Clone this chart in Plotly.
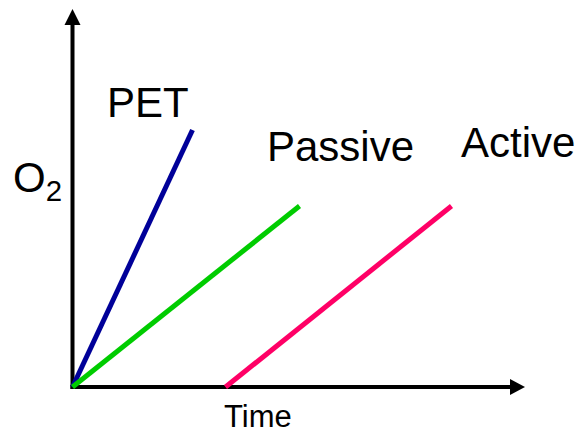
import plotly.graph_objects as go

# Data (time units, O2 units)
series_names = ["PET", "Passive", "Active"]
series_x = [[0, 12.0], [0, 22.7], [15.3, 37.9]]
series_y = [[0, 25.7], [0, 18.1], [0, 18.1]]
series_colors = ["#000099", "#00CC00", "#FF0066"]
label_x = [7.55, 26.75, 44.55]
label_y = [28.5, 24.1, 24.5]

x_axis_label = "Time"
y_axis_label = "O<sub>2</sub>"

FONT = "Arial, Liberation Sans, sans-serif"

fig = go.Figure()
for name, xs, ys, c in zip(series_names, series_x, series_y, series_colors):
    fig.add_trace(go.Scatter(x=xs, y=ys, mode="lines", name=name,
                             line=dict(color=c, width=5), hoverinfo="skip"))

# axes with arrows
x_end, x_head = 45.25, 43.75
y_end, y_head = 37.8, 36.2
hw = 0.8
fig.add_shape(type="line", x0=-0.2, y0=0, x1=x_head + 0.2, y1=0,
              line=dict(color="black", width=4), layer="below")
fig.add_shape(type="line", x0=0, y0=-0.2, x1=0, y1=y_head + 0.2,
              line=dict(color="black", width=4), layer="below")
fig.add_shape(type="path",
              path=f"M {x_head} {-hw} L {x_end} 0 L {x_head} {hw} Z",
              fillcolor="black", line=dict(color="black", width=0), layer="below")
fig.add_shape(type="path",
              path=f"M {-hw} {y_head} L 0 {y_end} L {hw} {y_head} Z",
              fillcolor="black", line=dict(color="black", width=0), layer="below")

for name, lx, ly in zip(series_names, label_x, label_y):
    fig.add_annotation(x=lx, y=ly, text=name, showarrow=False,
                       font=dict(family=FONT, size=42, color="black"),
                       xanchor="center", yanchor="middle")

fig.add_annotation(x=18.55, y=-2.95, text=x_axis_label, showarrow=False,
                   font=dict(family=FONT, size=31, color="black"),
                   xanchor="center", yanchor="middle")
fig.add_annotation(x=-3.55, y=20.7, text=y_axis_label, showarrow=False,
                   font=dict(family=FONT, size=42, color="black"),
                   xanchor="center", yanchor="middle")

fig.update_layout(
    width=578, height=429,
    margin=dict(l=0, r=0, t=0, b=0),
    paper_bgcolor="white", plot_bgcolor="white",
    showlegend=False,
    xaxis=dict(range=[-7.25, 50.55], visible=False, fixedrange=True),
    yaxis=dict(range=[-4.2, 38.7], visible=False, fixedrange=True),
)

fig.write_html("out.html", config={"displayModeBar": False},
               post_script="document.body.style.margin='0';document.body.style.overflow='hidden';")
